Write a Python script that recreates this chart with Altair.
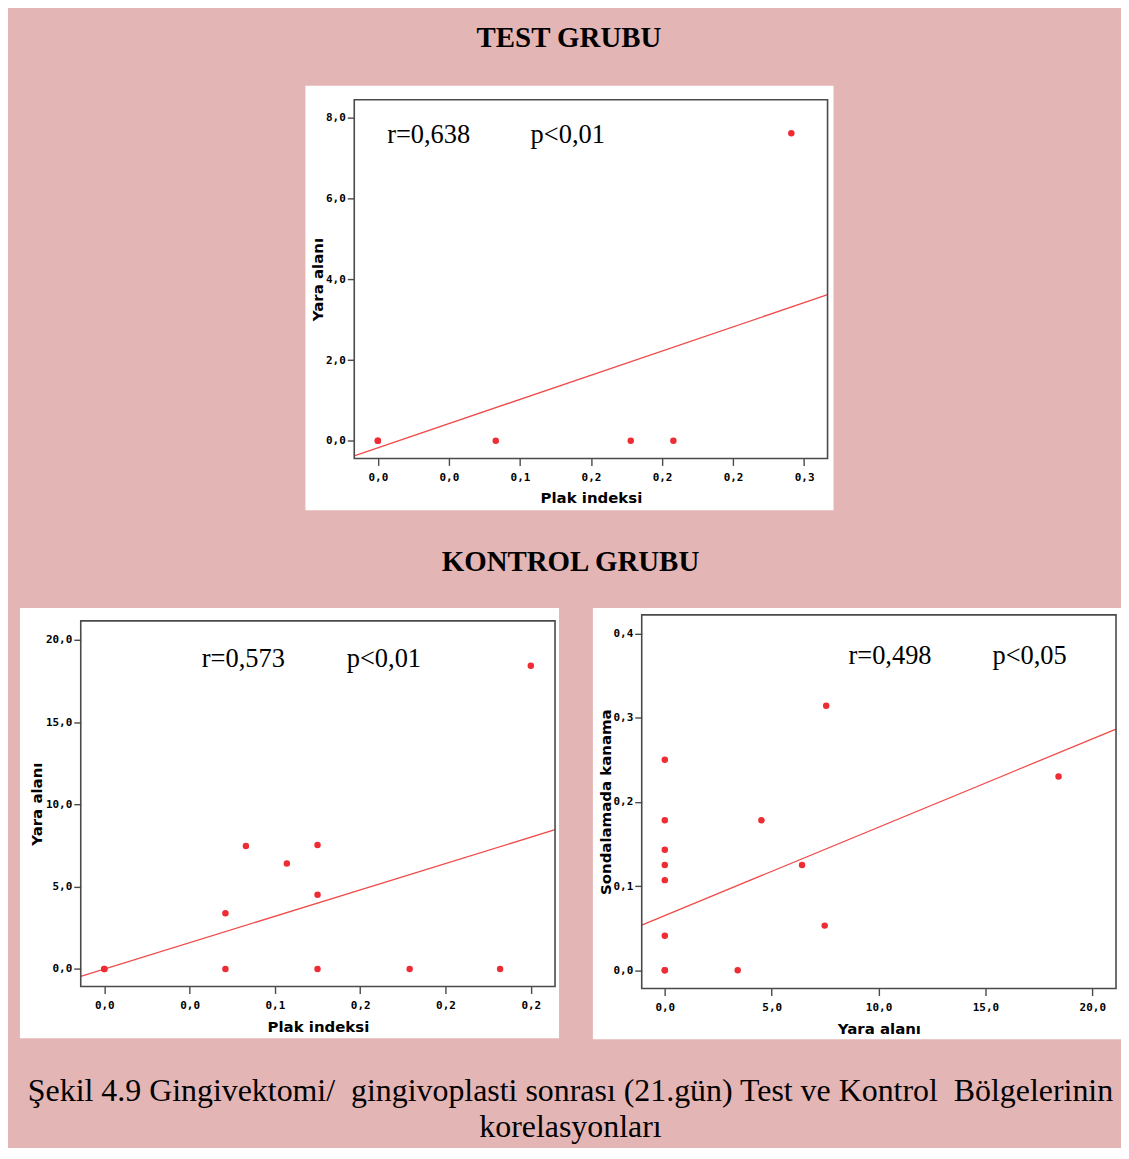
import altair as alt
import pandas as pd

# ---------------- data ----------------
# TEST GRUBU : Plak indeksi vs Yara alani
test_plak = [0.0, 0.0, 0.083, 0.178, 0.208, 0.291]
test_yara = [0.0, 0.0, 0.0, 0.0, 0.0, 7.62]
test_fit_x = [-0.0166, 0.3165]
test_fit_y = [-0.37, 3.62]
test_x_ticks = [0.0, 0.05, 0.10, 0.15, 0.20, 0.25, 0.30]
test_x_labels = ["0,0", "0,0", "0,1", "0,2", "0,2", "0,2", "0,3"]
test_y_ticks = [0.0, 2.0, 4.0, 6.0, 8.0]
test_y_labels = ["0,0", "2,0", "4,0", "6,0", "8,0"]
test_stats = ["r=0,638", "p<0,01"]

# KONTROL GRUBU (left): Plak indeksi vs Yara alani
kl_plak = [0.0, 0.0, 0.071, 0.071, 0.083, 0.107, 0.125, 0.125, 0.125, 0.179, 0.232, 0.25]
kl_yara = [0.0, 0.0, 3.38, 0.0, 7.47, 6.40, 7.53, 4.51, 0.0, 0.0, 0.0, 18.42]
kl_fit_x = [-0.0138, 0.2642]
kl_fit_y = [-0.45, 8.46]
kl_x_ticks = [0.0, 0.05, 0.10, 0.15, 0.20, 0.25]
kl_x_labels = ["0,0", "0,0", "0,1", "0,2", "0,2", "0,2"]
kl_y_ticks = [0.0, 5.0, 10.0, 15.0, 20.0]
kl_y_labels = ["0,0", "5,0", "10,0", "15,0", "20,0"]
kl_stats = ["r=0,573", "p<0,01"]

# KONTROL GRUBU (right): Yara alani vs Sondalamada kanama
kr_yara = [0.0, 0.0, 0.0, 0.0, 0.0, 0.0, 0.0, 0.0, 3.41, 4.52, 6.42, 7.48, 7.55, 18.42]
kr_sk = [0.25, 0.178, 0.143, 0.125, 0.107, 0.041, 0.0, 0.0, 0.0, 0.178, 0.125, 0.053, 0.314, 0.23]
kr_fit_x = [-1.08, 21.11]
kr_fit_y = [0.0536, 0.2864]
kr_x_ticks = [0.0, 5.0, 10.0, 15.0, 20.0]
kr_x_labels = ["0,0", "5,0", "10,0", "15,0", "20,0"]
kr_y_ticks = [0.0, 0.1, 0.2, 0.3, 0.4]
kr_y_labels = ["0,0", "0,1", "0,2", "0,3", "0,4"]
kr_stats = ["r=0,498", "p<0,05"]

caption = ["Şekil 4.9 Gingivektomi/ \u00a0gingivoplasti sonrası (21.gün) Test ve Kontrol \u00a0Bölgelerinin",
           "korelasyonları"]

PINK = "#E4B5B5"
RED_PT = "#EE2C34"
RED_LN = "#F04A4A"
FRAME = "#4a4a4a"
SERIF = "Liberation Serif"


def label_expr(ticks, labels):
    expr = "''"
    for t, l in reversed(list(zip(ticks, labels))):
        expr = f"abs(datum.value - {t}) < 1e-6 ? '{l}' : ({expr})"
    return expr


def make_axis(ticks, labels, title, is_x, title_x, title_y):
    common = dict(
        values=ticks,
        labelExpr=label_expr(ticks, labels),
        title=title,
        domain=False,
        grid=False,
        ticks=True,
        tickSize=7,
        tickWidth=1.4,
        tickColor=FRAME,
        labelFont="DejaVu Sans Mono",
        labelFontWeight="bold",
        labelFontSize=11,
        labelColor="black",
        titleFont="DejaVu Sans",
        titleFontWeight="bold",
        titleFontSize=15,
        titleColor="black",
        titleBaseline="alphabetic",
        titleAlign="center",
        titleX=title_x,
        titleY=title_y,
        zindex=1,
    )
    if is_x:
        return alt.Axis(labelPadding=6, **common)
    return alt.Axis(labelPadding=2, titleAngle=270, **common)


def panel(px, py, fx, fy, xdom, ydom, xt, xl, yt, yl, xtitle, ytitle,
          stats, w, h, white, xtitle_y, ytitle_x, stat_x, stat_y,
          top=0, extra_right=0):
    # top < 0 lets the plot frame start above the row origin
    xs = alt.Scale(domain=xdom, nice=False, zero=False)
    if top:
        ys = alt.Scale(domain=ydom, nice=False, zero=False, range=[h, top])
    else:
        ys = alt.Scale(domain=ydom, nice=False, zero=False)
    xa = make_axis(xt, xl, xtitle, True, w / 2, xtitle_y)
    ya = make_axis(yt, yl, ytitle, False, ytitle_x, (h + top) / 2)
    X = alt.X("x:Q", scale=xs, axis=xa)
    Y = alt.Y("y:Q", scale=ys, axis=ya)

    one = pd.DataFrame({"k": [0]})
    layers = []
    if extra_right:
        layers.append(alt.Chart(one).mark_rect(fill="white", opacity=0).encode(
            x=alt.value(white[1]), x2=alt.value(white[1] + extra_right),
            y=alt.value(white[2]), y2=alt.value(white[2] + 10)))
    bg = alt.Chart(one).mark_rect(fill="white").encode(
        x=alt.value(white[0]), x2=alt.value(white[1]),
        y=alt.value(white[2]), y2=alt.value(white[3]))
    fit = alt.Chart(pd.DataFrame({"x": fx, "y": fy})).mark_line(
        color=RED_LN, strokeWidth=1.3).encode(x=X, y=Y)
    pts = alt.Chart(pd.DataFrame({"x": px, "y": py})).mark_circle(
        color=RED_PT, size=42, opacity=1).encode(x=X, y=Y)
    layers += [bg, fit, pts]
    for s, sx in zip(stats, stat_x):
        layers.append(
            alt.Chart(pd.DataFrame({"t": [s]})).mark_text(
                font=SERIF, fontSize=26.5, color="black", align="left",
                baseline="alphabetic").encode(
                x=alt.value(sx), y=alt.value(stat_y), text="t:N"))
    frame = alt.Chart(one).mark_rect(fill="white", fillOpacity=0, stroke=FRAME,
                                     strokeWidth=1.6).encode(
        x=alt.value(0), x2=alt.value(w), y=alt.value(top), y2=alt.value(h))
    layers.append(frame)
    return alt.layer(*layers).properties(width=w, height=h)


test_w, test_h = 475, 360
test = panel(test_plak, test_yara, test_fit_x, test_fit_y,
             [-0.0166, 0.3165], [-0.436, 8.45],
             test_x_ticks, test_x_labels, test_y_ticks, test_y_labels,
             "Plak indeksi", "Yara alanı", test_stats, test_w, test_h,
             (-49, test_w + 6, -14, test_h + 52), 44, -31.5, [33, 177], 43,
             extra_right=14
             ).properties(title=alt.TitleParams(
                 "TEST GRUBU", font=SERIF, fontSize=29, fontWeight="bold",
                 color="black", anchor="middle", frame="group", dx=-22,
                 offset=33))

kl_w, kl_h = 476, 367
kl = panel(kl_plak, kl_yara, kl_fit_x, kl_fit_y,
           [-0.0138, 0.2642], [-1.07, 21.15],
           kl_x_ticks, kl_x_labels, kl_y_ticks, kl_y_labels,
           "Plak indeksi", "Yara alanı", kl_stats, kl_w, kl_h,
           (-61, kl_w + 4, -13, kl_h + 52), 45, -39, [121.5, 267], 46)

kr_w, kr_h, kr_top = 476, 369, -6
kr = panel(kr_yara, kr_sk, kr_fit_x, kr_fit_y,
           [-1.08, 21.11], [-0.0217, 0.422],
           kr_x_ticks, kr_x_labels, kr_y_ticks, kr_y_labels,
           "Yara alanı", "Sondalamada kanama", kr_stats, kr_w, kr_h,
           (-49, kr_w + 5, kr_top - 7, kr_h + 51), 45, -31.4, [207.5, 352],
           kr_top + 49, top=kr_top)

kontrol = alt.hconcat(kl, kr, spacing=34).properties(
    title=alt.TitleParams("KONTROL GRUBU", font=SERIF, fontSize=29,
                          fontWeight="bold", color="black", anchor="middle",
                          offset=31))

chart = alt.vconcat(test, kontrol, spacing=38, center=True).properties(
    title=alt.TitleParams(caption, orient="bottom", font=SERIF, fontSize=32,
                          fontWeight="normal", color="black", anchor="middle",
                          lineHeight=36, offset=37),
    background=PINK,
    padding={"left": 12, "top": 14, "right": 0, "bottom": 3},
).configure_view(strokeWidth=0)

chart.save("out.html", embed_options={"renderer": "svg", "actions": False})
